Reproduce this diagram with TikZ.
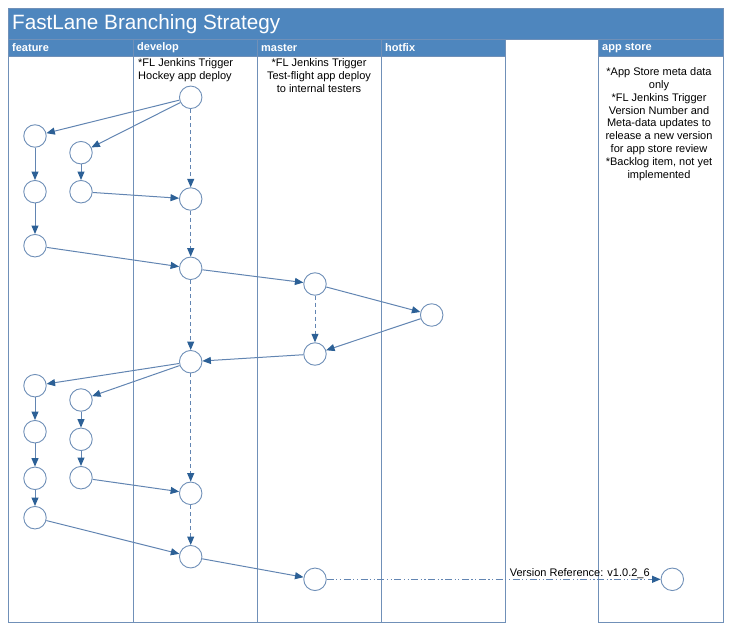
\documentclass[tikz,border=0pt]{standalone}
\usepackage{fontspec}
\setmainfont{Liberation Sans}
\usetikzlibrary{arrows.meta}
\definecolor{band}{RGB}{78,134,190}
\definecolor{lane}{RGB}{112,144,184}
\definecolor{edge}{RGB}{98,133,178}
\definecolor{tip}{RGB}{44,96,150}
\begin{document}
\begin{tikzpicture}[x=1pt,y=-1pt,
  cnode/.style={circle,draw=lane,line width=0.9pt,minimum size=22.5pt,inner sep=0pt,fill=white},
  flow/.style={draw=edge,line width=1pt,-{Triangle[length=8.5pt,width=7pt,color=tip,fill=tip]}},
  dflow/.style={flow,dash pattern=on 4pt off 3pt},
  vflow/.style={flow,dash pattern=on 7pt off 2.5pt on 1.2pt off 2.5pt on 1.2pt off 2.5pt},
  lanebox/.style={draw=lane,line width=0.8pt},
  headcell/.style={fill=band,draw=lane,line width=0.8pt},
  headtxt/.style={anchor=west,inner sep=0pt,text=white,font=\fontsize{11}{13}\selectfont\bfseries},
  note/.style={inner sep=0pt,font=\fontsize{11}{12.8}\selectfont,text=black},
]
\useasboundingbox (0,0) rectangle (732,632);
% title band
\filldraw[fill=band,draw=lane,line width=0.8pt] (8,8) rectangle (723,39.5);
\node[anchor=west,inner sep=0pt,text=white,font=\fontsize{20.7}{24}\selectfont] (title) at (12,24) {FastLane Branching Strategy};
% lanes
\foreach \xa/\xb/\nm/\lbl in {8/133/lf/feature,133/257/ld/develop,257/381/lm/master,381/505/lh/hotfix,598/723/la/app store}{
  \filldraw[headcell] (\xa,39.5) rectangle (\xb,56);
  \draw[lanebox] (\xa,56) rectangle (\xb,622);
  \node[headtxt] (\nm) at (\xa+4,47.7) {\lbl};
}
\draw[lanebox] (505,39.5) -- (505,622);
\draw[lanebox] (598,39.5) -- (598,622);
% notes
\node[note,anchor=north west,align=left] (ndev) at (138,58.6) {*FL Jenkins Trigger\\Hockey app deploy};
\node[note,anchor=north,align=center] (nmas) at (319,58.6) {*FL Jenkins Trigger\\Test-flight app deploy\\to internal testers};
\node[note,anchor=north,align=center] (napp) at (659,67.6) {*App Store meta data\\only\\*FL Jenkins Trigger\\Version Number and\\Meta-data updates to\\release a new version\\for app store review\\*Backlog item, not yet\\implemented};
% commits
\node[cnode] (d1) at (190.7,97.3) {};
\node[cnode] (fa1) at (35,136) {};
\node[cnode] (fb1) at (81,152.7) {};
\node[cnode] (fa2) at (35,191.7) {};
\node[cnode] (fb2) at (81,191.7) {};
\node[cnode] (d2) at (190.7,199) {};
\node[cnode] (fa3) at (35,245.7) {};
\node[cnode] (d3) at (190.7,268.3) {};
\node[cnode] (m1) at (315,284) {};
\node[cnode] (h1) at (431.7,315) {};
\node[cnode] (m2) at (315,354) {};
\node[cnode] (d4) at (190.7,361.7) {};
\node[cnode] (fc1) at (35,385.7) {};
\node[cnode] (fd1) at (81,400) {};
\node[cnode] (fc2) at (35,431.7) {};
\node[cnode] (fd2) at (81,439.3) {};
\node[cnode] (fc3) at (35,478.3) {};
\node[cnode] (fd3) at (81,477.7) {};
\node[cnode] (fc4) at (35,517.7) {};
\node[cnode] (d5) at (190.7,493.3) {};
\node[cnode] (d6) at (190.7,556.7) {};
\node[cnode] (m3) at (315,579.3) {};
\node[cnode] (as) at (672.3,579.3) {};
% connectors
\draw[flow] (d1) -- (fa1);
\draw[flow] (d1) -- (fb1);
\draw[dflow] (d1) -- (d2);
\draw[flow] (fa1) -- (fa2);
\draw[flow] (fa2) -- (fa3);
\draw[flow] (fb1) -- (fb2);
\draw[flow] (fb2) -- (d2);
\draw[dflow] (d2) -- (d3);
\draw[flow] (fa3) -- (d3);
\draw[flow] (d3) -- (m1);
\draw[flow] (m1) -- (h1);
\draw[dflow] (m1) -- (m2);
\draw[flow] (h1) -- (m2);
\draw[flow] (m2) -- (d4);
\draw[dflow] (d3) -- (d4);
\draw[flow] (d4) -- (fc1);
\draw[flow] (d4) -- (fd1);
\draw[flow] (fc1) -- (fc2);
\draw[flow] (fc2) -- (fc3);
\draw[flow] (fc3) -- (fc4);
\draw[flow] (fd1) -- (fd2);
\draw[flow] (fd2) -- (fd3);
\draw[flow] (fd3) -- (d5);
\draw[dflow] (d4) -- (d5);
\draw[dflow] (d5) -- (d6);
\draw[flow] (fc4) -- (d6);
\draw[flow] (d6) -- (m3);
\draw[vflow] (m3) -- node[pos=0.758,yshift=5.8pt,inner sep=0pt,font=\fontsize{11}{13}\selectfont] (vref) {Version Reference: v1.0.2\_6} (as);
\end{tikzpicture}
\end{document}
